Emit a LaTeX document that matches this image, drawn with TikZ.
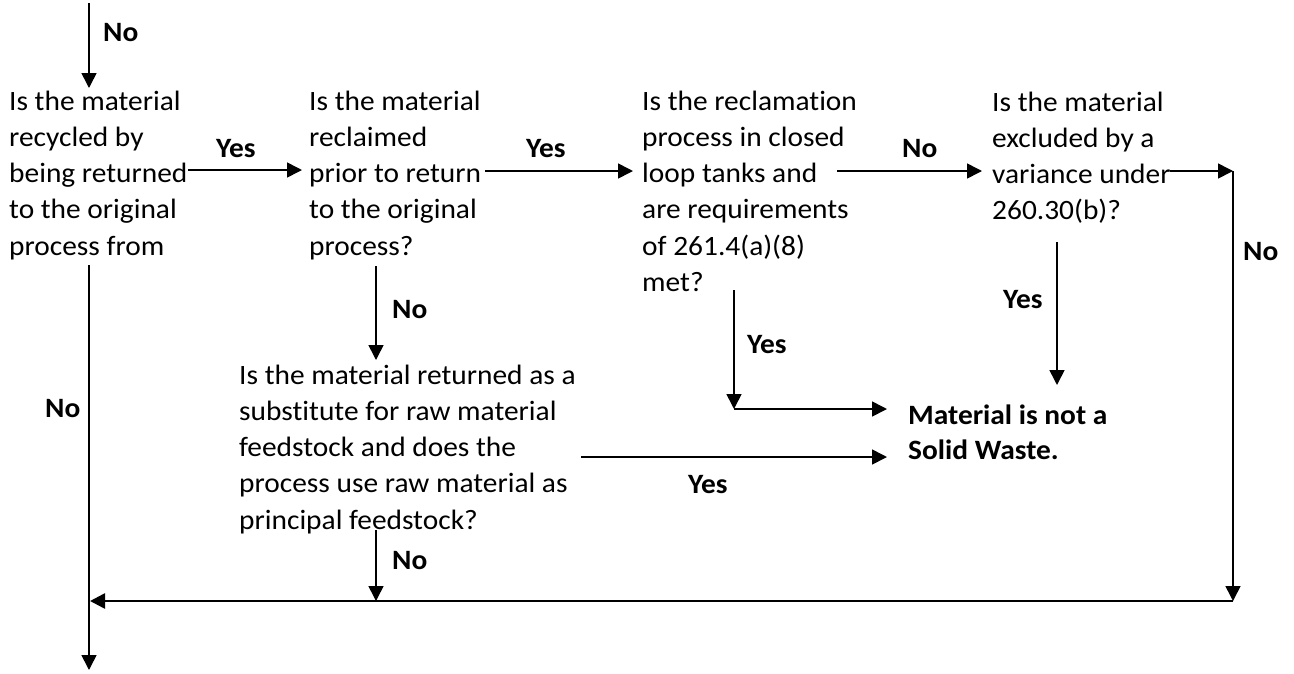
\documentclass[tikz,border=0pt]{standalone}
\usepackage{fontspec}
\setmainfont[FakeStretch=1.05,Ligatures={NoCommon,NoContextual}]{Carlito}
\usetikzlibrary{arrows.meta}
\begin{document}
\begin{tikzpicture}[x=1pt,y=-1pt,
  txt/.style={anchor=base west,inner sep=0pt,align=left,font=\fontsize{28}{36.3}\selectfont},
  lbl/.style={anchor=west,inner sep=0pt,font=\fontsize{28}{32}\selectfont\bfseries},
  conn/.style={line width=1.6pt,-{Triangle[length=15pt,width=15pt]}}]
\useasboundingbox (0,0) rectangle (1294,673);
% text blocks (base anchor = baseline of the last line)
\node[txt] (b1) at (9,255.2) {Is the material\\recycled by\\being returned\\to the original\\process from};
\node[txt] (b2) at (309,255.2) {Is the material\\reclaimed\\prior to return\\to the original\\process?};
\node[txt] (b3) at (642,291.5) {Is the reclamat\kern0pt ion\\process in closed\\loop tanks and\\are requirements\\of 261.4(a)(8)\\met?};
\node[txt] (b4) at (992,219.9) {Is the material\\excluded by a\\variance under\\260.30(b)?};
\node[txt] (b5) at (239,529.2) {Is the material returned as a\\substitute for raw material\\feedstock and does the\\process use raw material as\\principal feedstock?};
\node[txt,font=\fontsize{28}{35}\selectfont\bfseries] (b6) at (908,459) {Material is not a\\Solid Waste.};
% labels
\node[lbl] (l1) at (103,33) {No};
\node[lbl] (l2) at (216,149) {Yes};
\node[lbl] (l3) at (526,149) {Yes};
\node[lbl] (l4) at (902,149) {No};
\node[lbl] (l5) at (392,310) {No};
\node[lbl] (l6) at (1243,252) {No};
\node[lbl] (l7) at (1003,300) {Yes};
\node[lbl] (l8) at (747,345) {Yes};
\node[lbl] (l9) at (45,409) {No};
\node[lbl] (l10) at (688,485) {Yes};
\node[lbl] (l11) at (392,561) {No};
% coordinates
\coordinate (a0) at (89,3);
\coordinate (a1) at (89,88);
\coordinate (y1s) at (188,170);
\coordinate (y1e) at (302,170);
\coordinate (y2s) at (485,171);
\coordinate (y2e) at (633,171);
\coordinate (n3s) at (837,171);
\coordinate (n3e) at (982,171);
\coordinate (r0) at (1170,171);
\coordinate (r1) at (1233,171);
\coordinate (r2) at (1233,601);
\coordinate (bl) at (90,601);
\coordinate (lv0) at (89,265);
\coordinate (lv1) at (89,670);
\coordinate (d2s) at (376,266);
\coordinate (d2e) at (376,360);
\coordinate (d5s) at (376,530);
\coordinate (d5e) at (376,601);
\coordinate (d3s) at (734,290);
\coordinate (d3e) at (734,409);
\coordinate (m1) at (887,409);
\coordinate (y5s) at (581,457);
\coordinate (m2) at (887,457);
\coordinate (d4s) at (1057,242);
\coordinate (d4e) at (1057,385);
% connectors
\draw[conn] (a0) -- (a1);
\draw[conn] (y1s) -- (y1e);
\draw[conn] (y2s) -- (y2e);
\draw[conn] (n3s) -- (n3e);
\draw[conn] (r0) -- (r1);
\draw[conn] (r1) -- (r2);
\draw[conn,line width=2.6pt] (r2) -- (bl);
\draw[conn] (lv0) -- (lv1);
\draw[conn] (d2s) -- (d2e);
\draw[conn] (d5s) -- (d5e);
\draw[conn] (d3s) -- (d3e);
\draw[conn] (d3e) -- (m1);
\draw[conn] (y5s) -- (m2);
\draw[conn] (d4s) -- (d4e);
\end{tikzpicture}
\end{document}
